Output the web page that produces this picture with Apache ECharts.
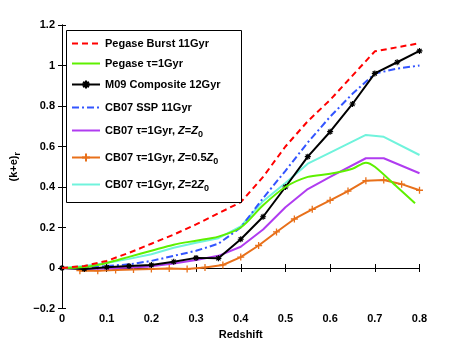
<!DOCTYPE html>
<html>
<head>
<meta charset="utf-8">
<script src="https://cdn.jsdelivr.net/npm/echarts@6/dist/echarts.min.js"></script>
<style>html,body{margin:0;padding:0;background:#fff;}#c{width:463px;height:348px;}</style>
</head>
<body>
<div id="c"></div>
<script>
// ---- data ----
var zStep = [0,0.05,0.1,0.15,0.2,0.25,0.3,0.35,0.4,0.45,0.5,0.55,0.6,0.65,0.7,0.75,0.8];
var pegaseBurst = [0,0.01,0.035,0.075,0.12,0.165,0.215,0.27,0.325,0.45,0.60,0.725,0.83,0.95,1.07,1.09,1.11];
var m09Composite = [0,-0.005,0.004,0.01,0.015,0.031,0.05,0.048,0.142,0.253,0.40,0.55,0.673,0.81,0.961,1.016,1.072];
var cb07SSP = [0,0.0,0.01,0.018,0.035,0.06,0.085,0.12,0.2,0.345,0.48,0.62,0.747,0.86,0.96,0.985,1.0];

var pegaseTauZ = [0,0.05,0.1,0.15,0.2,0.25,0.3,0.35,0.4,0.45,0.5,0.55,0.6,0.65,0.68,0.7,0.75,0.79];
var pegaseTau = [0,0.005,0.025,0.055,0.085,0.115,0.135,0.155,0.2,0.31,0.40,0.45,0.465,0.49,0.52,0.50,0.40,0.32];

var cb07Z = [0,0.05,0.1,0.15,0.2,0.25,0.3,0.35,0.4,0.45,0.5,0.55,0.6,0.68,0.72,0.8];
var cb07Solar = [0,-0.005,-0.003,0.002,0.008,0.022,0.04,0.06,0.105,0.19,0.30,0.39,0.45,0.542,0.542,0.468];
var cb07Twice = [0,0.01,0.025,0.045,0.068,0.1,0.125,0.147,0.205,0.33,0.42,0.515,0.57,0.657,0.648,0.558];

var cb07HalfZ = [0.04,0.08,0.12,0.16,0.2,0.24,0.28,0.32,0.36,0.4,0.44,0.48,0.52,0.56,0.6,0.64,0.68,0.72,0.76,0.8];
var cb07Half = [-0.013,-0.013,-0.01,-0.007,-0.005,-0.002,-0.005,0.003,0.015,0.054,0.111,0.178,0.242,0.29,0.334,0.38,0.431,0.435,0.414,0.384];

var xTicks = [0,0.1,0.2,0.3,0.4,0.5,0.6,0.7,0.8];
var yTicks = [-0.2,0,0.2,0.4,0.6,0.8,1,1.2];

function pairs(xs, ys){ return xs.map(function(x,i){return [x, ys[i]];}); }

var names = [
  'Pegase Burst 11Gyr',
  'Pegase \u03c4=1Gyr',
  'M09 Composite 12Gyr',
  'CB07 SSP 11Gyr',
  'CB07 \u03c4=1Gyr, {it|Z}={it|Z}{sub|0}',
  'CB07 \u03c4=1Gyr, {it|Z}=0.5{it|Z}{sub|0}',
  'CB07 \u03c4=1Gyr, {it|Z}=2{it|Z}{sub|0}'
];
var colors = ['#ff0000','#5ef000','#000000','#3355ff','#b03cf0','#e8701a','#70f3dc'];
var legendCenters = [43,63,84,107,130,157,184];

var asterisk = 'path://M0,5L10,5M5,0L5,10M1.5,1.5L8.5,8.5M8.5,1.5L1.5,8.5';
var plus = 'path://M0,5L10,5M5,0L5,10';

var series = [
  {name:names[0], data:pairs(zStep,pegaseBurst), lineStyle:{color:colors[0],width:2,type:[6,4]}},
  {name:names[1], data:pairs(pegaseTauZ,pegaseTau), smooth:0.3, lineStyle:{color:colors[1],width:2}},
  {name:names[2], data:pairs(zStep,m09Composite), symbol:asterisk, symbolSize:6, showSymbol:true,
    itemStyle:{color:'#000',borderColor:'#000',borderWidth:1.2}, lineStyle:{color:colors[2],width:2}},
  {name:names[3], data:pairs(zStep,cb07SSP), lineStyle:{color:colors[3],width:2,type:[7,3,2,3]}},
  {name:names[4], data:pairs(cb07Z,cb07Solar), lineStyle:{color:colors[4],width:2}},
  {name:names[5], data:pairs(cb07HalfZ,cb07Half), symbol:plus, symbolSize:7, showSymbol:true,
    itemStyle:{color:colors[5],borderColor:colors[5],borderWidth:1.3}, lineStyle:{color:colors[5],width:2}},
  {name:names[6], data:pairs(cb07Z,cb07Twice), lineStyle:{color:colors[6],width:2}}
].map(function(s,i){
  s.type='line'; s.z = 10-i;
  if(!s.symbol){ s.symbol='none'; s.showSymbol=false; s.noMarker=true; }
  if(!s.itemStyle){ s.itemStyle={color:colors[i]}; }
  s.animation=false;
  return s;
});
var rich = {
  it:{fontStyle:'italic',fontWeight:'bold',fontSize:11,fontFamily:'Liberation Sans',color:'#000'},
  sub:{fontSize:9,fontWeight:'bold',fontFamily:'Liberation Sans',color:'#000',verticalAlign:'bottom',padding:[9,0,0,0]}
};
var legends = names.map(function(n,i){
  var item = {name:n};
  if(series[i].noMarker){ item.itemStyle = {opacity:0}; }
  return {
    data:[item], left:71, top:legendCenters[i]-5, padding:0, itemWidth:28, itemHeight:10, itemGap:4,
    selectedMode:false, z:40,
    textStyle:{fontFamily:'Liberation Sans',fontWeight:'bold',fontSize:11,color:'#000',rich:rich},
    formatter:function(name){return name;}
  };
});
series.forEach(function(s){ delete s.noMarker; });

var axisFont = {fontFamily:'Liberation Sans',fontWeight:'bold',fontSize:11,color:'#000'};
var chart = echarts.init(document.getElementById('c'), null, {renderer:'canvas'});
chart.setOption({
  backgroundColor:'#fff',
  animation:false,
  grid:{left:60,right:43.5,top:25,bottom:39.5,containLabel:false},
  legend:legends,
  xAxis:[
    {type:'value',min:0,max:0.8,interval:0.1,position:'bottom',
     axisLine:{show:true,lineStyle:{color:'#000',width:1}},
     axisTick:{show:true,inside:true,length:4,lineStyle:{color:'#000'}},
     splitLine:{show:false},
     axisLabel:Object.assign({margin:5,formatter:function(v){return String(Math.round(v*10)/10);}},axisFont),
     name:'Redshift',nameLocation:'middle',nameGap:19,nameTextStyle:axisFont},
    {type:'value',min:0,max:0.8,interval:0.1,position:'top',
     axisLine:{show:true,lineStyle:{color:'#000',width:1}},
     axisTick:{show:true,inside:true,length:4,lineStyle:{color:'#000'}},
     axisLabel:{show:false},splitLine:{show:false}}
  ],
  yAxis:[
    {type:'value',min:-0.2,max:1.2,interval:0.2,position:'left',
     axisLine:{show:true,lineStyle:{color:'#000',width:1}},
     axisTick:{show:true,inside:true,length:4,lineStyle:{color:'#000'}},
     splitLine:{show:false},
     axisLabel:Object.assign({margin:7,formatter:function(v){var r=Math.round(v*10)/10; return r<0?'\u2212'+Math.abs(r):String(r);}},axisFont),
     name:'(k+e){s|r}',nameLocation:'middle',nameGap:40,nameRotate:90,
     nameTextStyle:Object.assign({rich:{s:{fontFamily:'Liberation Sans',fontWeight:'bold',fontSize:9,color:'#000',padding:[8,0,0,0]}}},axisFont)},
    {type:'value',min:-0.2,max:1.2,interval:0.2,position:'right',
     axisLine:{show:true,lineStyle:{color:'#000',width:1}},
     axisTick:{show:true,inside:true,length:4,lineStyle:{color:'#000'}},
     axisLabel:{show:false},splitLine:{show:false}}
  ],
  graphic:[{type:'rect',shape:{x:66.5,y:30.5,width:175,height:172},style:{fill:'#fff',stroke:'#000',lineWidth:1},z:20}],
  series:series
});
</script>
</body>
</html>
